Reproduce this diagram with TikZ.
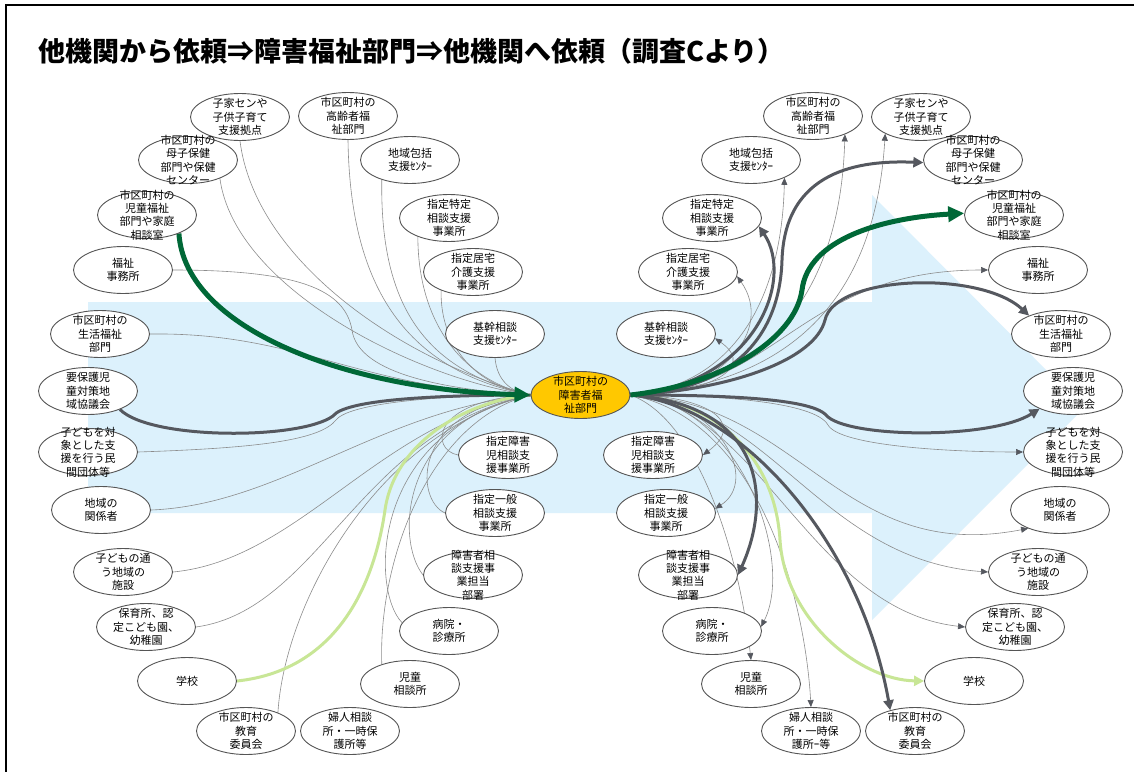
\documentclass[tikz,border=0pt]{standalone}
\usepackage{fontspec}
\setmainfont{Noto Sans CJK JP}
\usetikzlibrary{shapes.geometric,arrows.meta}
\definecolor{bgblue}{RGB}{220,241,252}
\definecolor{thingray}{RGB}{140,140,140}
\definecolor{darkline}{RGB}{85,88,95}
\definecolor{darkgreen}{RGB}{0,104,55}
\definecolor{lightgreen}{RGB}{200,230,150}
\definecolor{ring}{RGB}{85,85,85}
\definecolor{yellowc}{RGB}{255,200,0}
\pgfdeclarelayer{back}
\pgfdeclarelayer{lines}
\pgfsetlayers{back,lines,main}
\begin{document}
\begin{tikzpicture}[x=1pt,y=-1pt,
  lbl/.style={align=center,font=\fontsize{11}{13.3}\selectfont,inner sep=0pt,text=black},
  org/.style={ellipse,draw=ring,line width=0.9pt,fill=white,minimum width=99pt,minimum height=47pt,inner sep=0pt,label={[lbl]center:#1}},
  thinl/.style={draw=thingray,line width=0.6pt},
  thinr/.style={thinl,-{Triangle[length=7pt,width=6pt,color=darkline]}},
  thickl/.style={draw=darkline,line width=3pt},
  thickr/.style={-{Triangle[length=10pt,width=10pt]}},
  greenl/.style={draw=darkgreen,line width=5pt},
  greenr/.style={-{Triangle[length=16pt,width=15pt]}},
  lgreen/.style={draw=lightgreen,line width=3pt},
  lgreenr/.style={-{Triangle[length=10pt,width=10pt]}},
  titlestyle/.style={anchor=west,font=\fontsize{27}{30}\selectfont\bfseries,inner sep=0pt}
]
\useasboundingbox (0,0) rectangle (1134,771);
% background
\begin{pgfonlayer}{back}
\fill[white] (0,0) rectangle (1134,771);
\fill[bgblue] (88,302) -- (872,302) -- (872,195) -- (1084,408) -- (872,620) -- (872,513) -- (88,513) -- cycle;
\end{pgfonlayer}
% frame
\draw[line width=2pt,black] (6,775) -- (6,5) -- (1140,5);
% title
\node[titlestyle] (title) at (38,51) {他機関から依頼⇒障害福祉部門⇒他機関へ依頼（調査Cより）};
% center
\node[org={市区町村の\\障害者福\\祉部門},fill=yellowc] (C) at (580.5,395) {};
% left nodes
\node[org={子家センや\\子供子育て\\支援拠点}] (L1) at (240,117) {};
\node[org={市区町村の\\高齢者福\\祉部門}] (L2) at (348,116) {};
\node[org={市区町村の\\母子保健\\部門や保健\\センター}] (L3) at (188,160) {};
\node[org={地域包括\\支援ｾﾝﾀｰ}] (L4) at (410,160) {};
\node[org={市区町村の\\児童福祉\\部門や家庭\\相談室}] (L5) at (147,215) {};
\node[org={指定特定\\相談支援\\事業所}] (L6) at (449,218) {};
\node[org={福祉\\事務所}] (L7) at (123,270) {};
\node[org={指定居宅\\介護支援\\事業所}] (L8) at (473,272) {};
\node[org={市区町村の\\生活福祉\\部門}] (L9) at (100,334) {};
\node[org={基幹相談\\支援ｾﾝﾀｰ}] (L10) at (495,334) {};
\node[org={要保護児\\童対策地\\域協議会}] (L11) at (88,391) {};
\node[org={子どもを対\\象とした支\\援を行う民\\間団体等}] (L12) at (88,452) {};
\node[org={指定障害\\児相談支\\援事業所}] (L13) at (508,455) {};
\node[org={地域の\\関係者}] (L14) at (101,510) {};
\node[org={指定一般\\相談支援\\事業所}] (L15) at (495,513) {};
\node[org={子どもの通\\う地域の\\施設}] (L16) at (123,572) {};
\node[org={障害者相\\談支援事\\業担当\\部署}] (L17) at (473,575) {};
\node[org={保育所、認\\定こども園、\\幼稚園}] (L18) at (146,627) {};
\node[org={病院・\\診療所}] (L19) at (449,631) {};
\node[org={学校}] (L20) at (187,681) {};
\node[org={児童\\相談所}] (L21) at (410,684) {};
\node[org={市区町村の\\教育\\委員会}] (L22) at (246,731) {};
\node[org={婦人相談\\所・一時保\\護所等}] (L23) at (350,731) {};
% right nodes
\node[org={子家センや\\子供子育て\\支援拠点}] (R1) at (921,117) {};
\node[org={市区町村の\\高齢者福\\祉部門}] (R2) at (813,116) {};
\node[org={市区町村の\\母子保健\\部門や保健\\センター}] (R3) at (973,160) {};
\node[org={地域包括\\支援ｾﾝﾀｰ}] (R4) at (751,160) {};
\node[org={市区町村の\\児童福祉\\部門や家庭\\相談室}] (R5) at (1014,215) {};
\node[org={指定特定\\相談支援\\事業所}] (R6) at (712,218) {};
\node[org={福祉\\事務所}] (R7) at (1038,270) {};
\node[org={指定居宅\\介護支援\\事業所}] (R8) at (688,272) {};
\node[org={市区町村の\\生活福祉\\部門}] (R9) at (1061,334) {};
\node[org={基幹相談\\支援ｾﾝﾀｰ}] (R10) at (666,334) {};
\node[org={要保護児\\童対策地\\域協議会}] (R11) at (1073,391) {};
\node[org={子どもを対\\象とした支\\援を行う民\\間団体等}] (R12) at (1073,452) {};
\node[org={指定障害\\児相談支\\援事業所}] (R13) at (653,455) {};
\node[org={地域の\\関係者}] (R14) at (1060,510) {};
\node[org={指定一般\\相談支援\\事業所}] (R15) at (666,513) {};
\node[org={子どもの通\\う地域の\\施設}] (R16) at (1038,572) {};
\node[org={障害者相\\談支援事\\業担当\\部署}] (R17) at (688,575) {};
\node[org={保育所、認\\定こども園、\\幼稚園}] (R18) at (1015,627) {};
\node[org={病院・\\診療所}] (R19) at (712,631) {};
\node[org={学校}] (R20) at (974,681) {};
\node[org={児童\\相談所}] (R21) at (751,684) {};
\node[org={市区町村の\\教育\\委員会}] (R22) at (915,731) {};
\node[org={婦人相談\\所・一時保\\護所ｰ等}] (R23) at (811,731) {};
\begin{pgfonlayer}{lines}
% left connectors
\draw[thinl] (L1.south) .. controls (255,260) and (400,360) .. (C.west);
\draw[thinl] (L2.south) .. controls (350,280) and (400,370) .. (C.west);
\draw[thinl] (L3.-30) .. controls (235,290) and (420,380) .. (C.west);
\draw[thinl] (L4.215) .. controls (380,300) and (420,370) .. (C.west);
\draw[thinl] (L6.211) .. controls (418,320) and (460,380) .. (C.west);
\draw[thinl] (L7.east) .. controls (300,270) and (345,290) .. (352,330) .. controls (358,375) and (450,390) .. (C.west);
\draw[thinl] (L8.210) .. controls (440,340) and (470,385) .. (C.west);
\draw[thinl] (L9.east) .. controls (300,332) and (360,390) .. (C.west);
\draw[thinl] (L10.south) .. controls (497,380) and (510,392) .. (C.west);
\draw[thinl] (L12.east) .. controls (260,448) and (320,440) .. (336,420) .. controls (350,402) and (450,395) .. (C.west);
\draw[thinl] (L13.west) .. controls (430,450) and (430,400) .. (C.west);
\draw[thinl] (L14.east) .. controls (280,505) and (380,410) .. (C.west);
\draw[thinl] (L15.west) .. controls (415,500) and (410,410) .. (C.west);
\draw[thinl] (L16.east) .. controls (300,560) and (380,420) .. (C.west);
\draw[thinl] (L17.west) .. controls (395,540) and (400,420) .. (C.west);
\draw[thinl] (L18.east) .. controls (320,610) and (360,430) .. (C.west);
\draw[thinl] (L19.170) .. controls (370,590) and (370,430) .. (C.west);
\draw[thinl] (L21.145) .. controls (378,560) and (430,420) .. (C.west);
\draw[thinl] (L22.30) .. controls (285,600) and (380,430) .. (C.west);
\draw[lgreen] (L20.east) .. controls (340,670) and (375,580) .. (385,510) .. controls (395,440) and (470,400) .. (C.west);
\draw[thickl] (L11.-30) .. controls (150,440) and (300,440) .. (333,416) .. controls (345,400) and (430,395) .. (C.west);
\draw[greenl,greenr] (L5.-30) .. controls (185,330) and (350,390) .. (C.west);
% right connectors
\draw[thinr] (C.east) .. controls (790,385) and (875,300) .. (R1.205);
\draw[thinr] (C.east) .. controls (760,385) and (840,300) .. (R2.-30);
\draw[thinr] (C.east) .. controls (740,385) and (782,290) .. (R4.-28);
\draw[thinr] (C.east) .. controls (780,390) and (800,270) .. (R7.180);
\draw[thinr] (C.east) .. controls (720,395) and (775,330) .. (R8.-5);
\draw[thinr] (C.east) .. controls (700,395) and (760,370) .. (R10.-5);
\draw[thinr] (C.east) .. controls (720,395) and (815,402) .. (828,425) .. controls (840,446) and (950,452) .. (R12.180);
\draw[thinr] (C.east) .. controls (700,395) and (750,420) .. (R13.0);
\draw[thinr] (C.east) .. controls (800,400) and (840,565) .. (R14.210);
\draw[thinr] (C.east) .. controls (720,400) and (760,480) .. (R15.5);
\draw[thinr] (C.east) .. controls (770,400) and (820,560) .. (R16.180);
\draw[thinr] (C.east) .. controls (760,405) and (810,610) .. (R18.180);
\draw[thinr] (C.east) .. controls (740,400) and (795,560) .. (R19.5);
\draw[thinr] (C.east) .. controls (700,420) and (740,560) .. (R21.90);
\draw[thinr] (C.east) .. controls (760,420) and (805,600) .. (R23.90);
\draw[lgreen,lgreenr] (C.east) .. controls (720,400) and (775,460) .. (780,540) .. controls (785,620) and (860,680) .. (R20.180);
\draw[thickl,thickr] (C.east) .. controls (740,390) and (780,330) .. (782,260) .. controls (785,170) and (860,160) .. (R3.183);
\draw[thickl,thickr] (C.east) .. controls (755,385) and (795,280) .. (R6.-10);
\draw[thickl,thickr] (C.east) .. controls (730,390) and (815,360) .. (825,320) .. controls (835,275) and (980,270) .. (R9.150);
\draw[thickl,thickr] (C.east) .. controls (720,395) and (810,398) .. (826,415) .. controls (845,438) and (990,440) .. (R11.208);
\draw[thickl,thickr] (C.east) .. controls (765,405) and (772,500) .. (R17.0);
\draw[thickl,thickr] (C.east) .. controls (740,405) and (860,540) .. (R22.140);
\draw[greenl,greenr] (C.east) .. controls (720,385) and (795,340) .. (802,290) .. controls (808,240) and (880,218) .. (R5.178);
\end{pgfonlayer}
\end{tikzpicture}
\end{document}
